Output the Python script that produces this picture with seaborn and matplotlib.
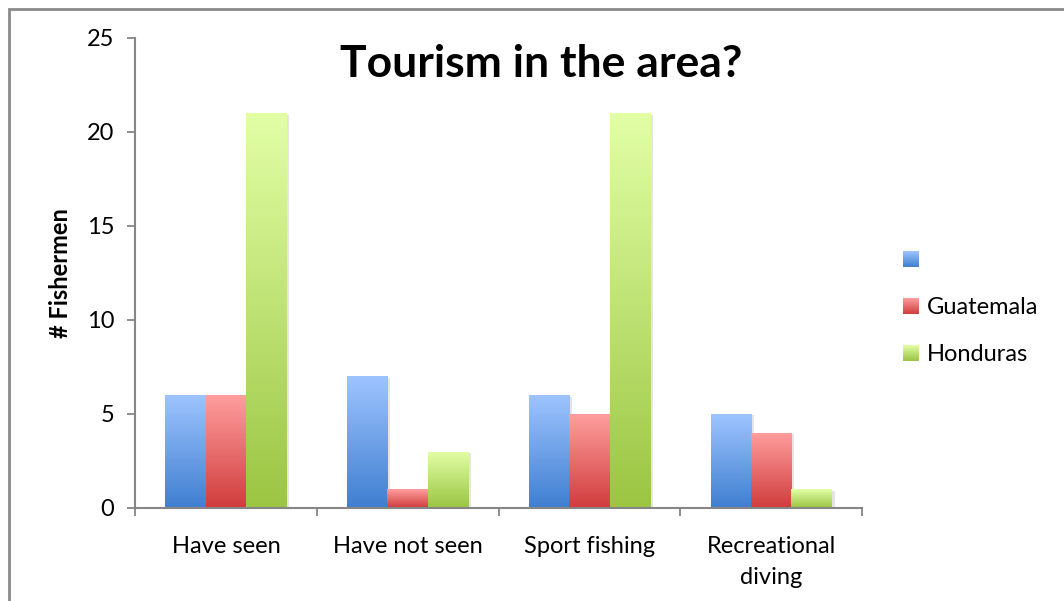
import numpy as np
import pandas as pd
import matplotlib
matplotlib.use("Agg")
import matplotlib.pyplot as plt
import seaborn as sns
from matplotlib.patches import Rectangle
from matplotlib.image import BboxImage
from matplotlib.transforms import Bbox, TransformedBbox
from matplotlib.legend_handler import HandlerBase
from matplotlib import patheffects as pe
from matplotlib.colors import to_rgb

# Survey answers per country
categories = ["Have seen", "Have not seen", "Sport fishing", "Recreational\ndiving"]
series_names = ["", "Guatemala", "Honduras"]
blank_series = [6, 7, 6, 5]
guatemala = [6, 1, 5, 4]
honduras = [21, 3, 21, 1]
y_ticks = [0, 5, 10, 15, 20, 25]

# top / bottom colours of each series gradient
gradients = [("#9ec4ff", "#3f7fd0"), ("#ff9e9e", "#d03c3c"), ("#e2ffa6", "#9bc542")]

rows = []
for name, vals in zip(series_names, [blank_series, guatemala, honduras]):
    for cat, v in zip(categories, vals):
        rows.append({"category": cat, "series": name, "value": v})
df = pd.DataFrame(rows)

sns.set_theme(style="white")
plt.rcParams["font.family"] = ["Lato", "DejaVu Sans"]
plt.rcParams["text.color"] = "black"
plt.rcParams["xtick.color"] = "black"
plt.rcParams["ytick.color"] = "black"
plt.rcParams["axes.labelcolor"] = "black"

W, H = 1064, 601
fig = plt.figure(figsize=(W / 100, H / 100), dpi=100)
ax = fig.add_axes([135 / W, (H - 508) / H, (862 - 135) / W, (508 - 38) / H])

palette = {n: gradients[i][1] for i, n in enumerate(series_names)}
sns.barplot(data=df, x="category", y="value", hue="series", order=categories,
            hue_order=series_names, palette=palette, width=0.667, gap=0,
            legend=False, ax=ax, saturation=1)


def gradient_array(top, bottom, n=256):
    t = np.linspace(0, 1, n)[:, None]
    a = np.array(to_rgb(top))
    b = np.array(to_rgb(bottom))
    return (a * (1 - t) + b * t)[:, None, :]


shadow = [pe.SimplePatchShadow(offset=(2, -1), shadow_rgbFace="#9a9a9a", alpha=0.25),
          pe.Normal()]
for i, container in enumerate(ax.containers):
    grad = gradient_array(*gradients[i])
    for bar in container:
        x0, y0 = bar.get_x(), bar.get_y()
        w, h = bar.get_width(), bar.get_height()
        bar.set_edgecolor("none")
        bar.set_path_effects(shadow)
        im = ax.imshow(grad, extent=(x0, x0 + w, y0, y0 + h), origin="upper",
                       aspect="auto", zorder=bar.get_zorder() + 0.1,
                       interpolation="bilinear")
        im.set_clip_path(bar)

ax.set_xlim(-0.5, 3.5)
ax.set_ylim(0, 25)
ax.set_yticks(y_ticks)
ax.set_yticklabels([str(t) for t in y_ticks], fontsize=17)
ax.set_xticks(np.arange(-0.5, 4.0, 1.0))
ax.set_xticklabels([])
ax.set_xticks(np.arange(len(categories)), minor=True)
ax.set_xticklabels(categories, minor=True, fontsize=17, linespacing=1.6)
ax.tick_params(axis="x", which="major", direction="out", length=6, width=1.3,
               color="#868686", bottom=True)
ax.tick_params(axis="x", which="minor", length=0, pad=20)
ax.tick_params(axis="y", direction="out", length=6, width=1.3, color="#868686",
               left=True, pad=9)
for side in ["top", "right"]:
    ax.spines[side].set_visible(False)
for side in ["left", "bottom"]:
    ax.spines[side].set_color("#868686")
    ax.spines[side].set_linewidth(1.5)
ax.set_xlabel("")
ax.set_ylabel("# Fishermen", fontsize=17, fontweight="bold")
ax.yaxis.set_label_coords(-(135 - 72) / (862 - 135), 0.5)
ax.set_facecolor("none")

fig.text(541 / W, 1 - 64 / H, "Tourism in the area?", fontsize=32,
         fontweight="bold", ha="center", va="center")

# outer chart frame
fig.patches.append(Rectangle((9 / W, -0.1), 1.2, 1 - 9 / H + 0.1,
                             transform=fig.transFigure, fill=False,
                             edgecolor="#8a8a8a", linewidth=2))


class GradientHandler(HandlerBase):
    def __init__(self, top, bottom):
        super().__init__()
        self.grad = gradient_array(top, bottom, 64)

    def create_artists(self, legend, orig_handle, xdescent, ydescent,
                       width, height, fontsize, trans):
        size = min(width, height)
        bb = Bbox.from_bounds(-xdescent + (width - size) / 2,
                              -ydescent + (height - size) / 2, size, size)
        img = BboxImage(TransformedBbox(bb, trans), interpolation="bilinear")
        img.set_data(self.grad)
        return [img]


handles = [Rectangle((0, 0), 1, 1) for _ in series_names]
leg = fig.legend(handles, series_names,
                 handler_map={h: GradientHandler(*gradients[i]) for i, h in enumerate(handles)},
                 loc="center left", bbox_to_anchor=(882 / W, 1 - 308 / H),
                 frameon=False, fontsize=17, handlelength=0.65, handleheight=0.65,
                 handletextpad=0.35, labelspacing=1.1)

fig.savefig("out.png", dpi=100)
